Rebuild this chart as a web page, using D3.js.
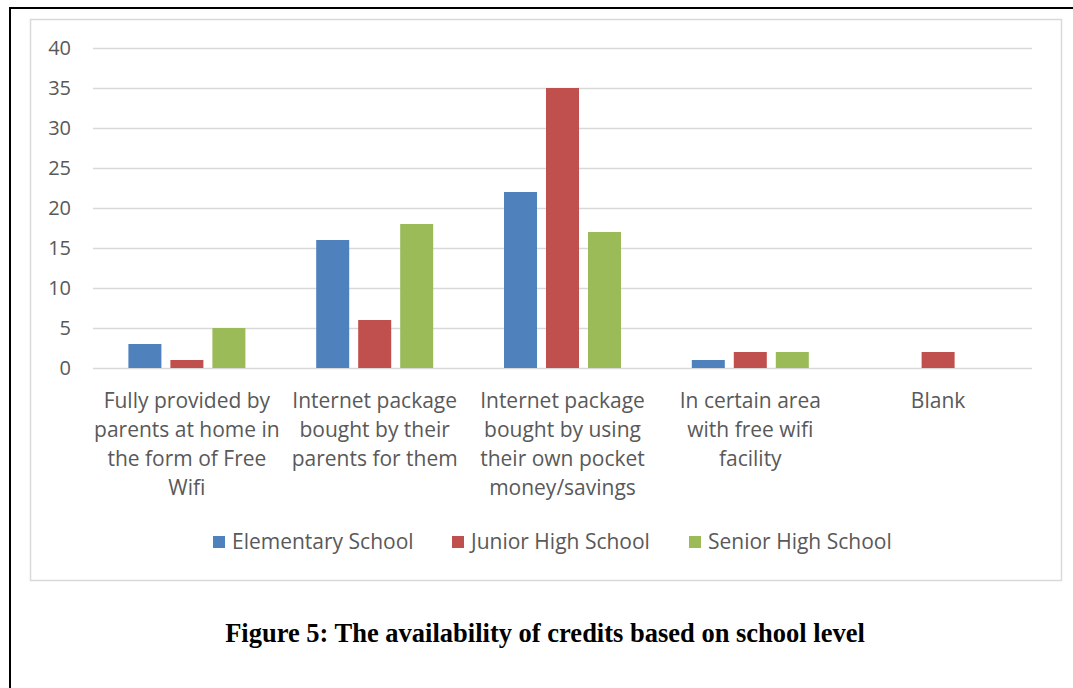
<!DOCTYPE html>
<html>
<head>
<meta charset="utf-8">
<script src="https://cdn.jsdelivr.net/npm/d3@7"></script>
<style>
  html, body { margin: 0; padding: 0; background: #fff; }
  svg { display: block; }
</style>
</head>
<body>
<svg id="chart" width="1073" height="688"></svg>
<script>
// Sources of internet credit, counted per school level
const categories = [
  "Fully provided by parents at home in the form of Free Wifi",
  "Internet package bought by their parents for them",
  "Internet package bought by using their own pocket money/savings",
  "In certain area with free wifi facility",
  "Blank"
];
const categoryLines = [
  ["Fully provided by", "parents at home in", "the form of Free", "Wifi"],
  ["Internet package", "bought by their", "parents for them"],
  ["Internet package", "bought by using", "their own pocket", "money/savings"],
  ["In certain area", "with free wifi", "facility"],
  ["Blank"]
];
const seriesNames = ["Elementary School", "Junior High School", "Senior High School"];
const elementary = [3, 16, 22, 1, 0];
const juniorHigh = [1, 6, 35, 2, 2];
const seniorHigh = [5, 18, 17, 2, 0];
const yTicks = [0, 5, 10, 15, 20, 25, 30, 35, 40];
const colors = ["#4f81bd", "#c0504d", "#9bbb59"];
const caption = "Figure 5: The availability of credits based on school level";

const seriesValues = [elementary, juniorHigh, seniorHigh];
const textFont = "'Open Sans', 'Noto Sans', sans-serif";
const textColor = "#595959";

const svg = d3.select("#chart");

// page frame and chart area border
svg.append("rect")
  .attr("x", 10).attr("y", 8).attr("width", 1100).attr("height", 720)
  .attr("fill", "none").attr("stroke", "#000").attr("stroke-width", 2);
svg.append("rect")
  .attr("x", 30.5).attr("y", 19.5).attr("width", 1031).attr("height", 561)
  .attr("fill", "#fff").attr("stroke", "#d9d9d9").attr("stroke-width", 1.5);

const plot = { left: 93, right: 1032, top: 48, bottom: 368 };

const y = d3.scaleLinear().domain([0, 40]).range([plot.bottom, plot.top]);
const x0 = d3.scaleBand().domain(d3.range(categories.length))
  .range([plot.left, plot.right]).paddingInner(0).paddingOuter(0);
const x1 = d3.scaleBand().domain(d3.range(seriesNames.length))
  .range([x0.bandwidth() / 2 - 58.5, x0.bandwidth() / 2 + 58.5])
  .paddingInner(0.214).paddingOuter(0);

// gridlines
svg.append("g")
  .selectAll("line").data(yTicks).join("line")
  .attr("x1", plot.left).attr("x2", plot.right)
  .attr("y1", d => Math.round(y(d)) + 0.5).attr("y2", d => Math.round(y(d)) + 0.5)
  .attr("stroke", "#d9d9d9").attr("stroke-width", 1.5);

// y axis labels
const yAxis = svg.append("g")
  .attr("transform", `translate(${plot.left - 22},0)`)
  .call(d3.axisLeft(y).tickValues(yTicks).tickSize(0).tickPadding(0));
yAxis.select(".domain").remove();
yAxis.selectAll("text")
  .attr("font-family", textFont).attr("font-size", 20)
  .attr("fill", textColor).attr("dy", "0.34em");

// bars
const groups = svg.append("g").selectAll("g")
  .data(categories.map((c, i) => i)).join("g")
  .attr("transform", i => `translate(${x0(i)},0)`);
groups.selectAll("rect")
  .data(i => seriesValues.map((vals, s) => ({ s, v: vals[i] })))
  .join("rect")
  .attr("x", d => x1(d.s))
  .attr("width", x1.bandwidth())
  .attr("y", d => y(d.v))
  .attr("height", d => y(0) - y(d.v))
  .attr("fill", d => colors[d.s]);

// category labels
const xLabels = svg.append("g").selectAll("text")
  .data(categoryLines).join("text")
  .attr("x", (d, i) => x0(i) + x0.bandwidth() / 2)
  .attr("y", 408)
  .attr("text-anchor", "middle")
  .attr("font-family", textFont).attr("font-size", 21)
  .attr("fill", textColor);
xLabels.selectAll("tspan")
  .data(d => d).join("tspan")
  .attr("x", function () { return this.parentNode.getAttribute("x"); })
  .attr("dy", (d, i) => i === 0 ? 0 : 29)
  .text(d => d);

// legend
const legendX = [213, 452, 689];
const legend = svg.append("g").selectAll("g")
  .data(seriesNames).join("g")
  .attr("transform", (d, i) => `translate(${legendX[i]},536)`);
legend.append("rect")
  .attr("width", 12).attr("height", 12)
  .attr("fill", (d, i) => colors[i]);
legend.append("text")
  .attr("x", 19).attr("y", 6).attr("dy", "0.35em")
  .attr("font-family", textFont).attr("font-size", 21)
  .attr("fill", textColor)
  .text(d => d);

// caption
svg.append("text")
  .attr("x", 545).attr("y", 642)
  .attr("text-anchor", "middle")
  .attr("font-family", "'Liberation Serif', 'Times New Roman', serif")
  .attr("font-weight", "bold").attr("font-size", 26.5)
  .attr("fill", "#000")
  .text(caption);
</script>
</body>
</html>
